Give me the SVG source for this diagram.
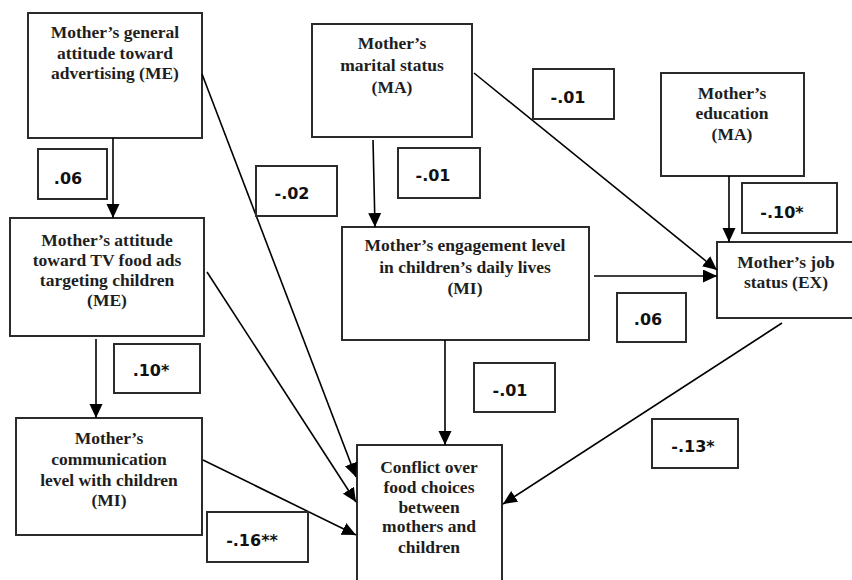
<svg xmlns="http://www.w3.org/2000/svg" width="852" height="580" viewBox="0 0 852 580">
<defs>
<style>
.box{fill:#fff;stroke:#2b2b2b;stroke-width:2}
.t{font-family:"Liberation Serif","Times New Roman",serif;font-size:17.5px;font-weight:bold;fill:#1e1e1e;text-anchor:middle}
.lb{fill:#fff;stroke:#2b2b2b;stroke-width:2}
.lt{font-family:"DejaVu Sans",Verdana,sans-serif;font-size:16px;font-weight:bold;fill:#111;text-anchor:middle}
.c{stroke:#000;stroke-width:1.6;fill:none;marker-end:url(#ah)}
</style>
<marker id="ah" markerUnits="userSpaceOnUse" markerWidth="15" markerHeight="14" refX="14" refY="6.5" orient="auto">
<path d="M0,0 L14,6.5 L0,13 Z" fill="#000"/>
</marker>
</defs>
<rect width="852" height="580" fill="#fff"/>

<g id="n_general">
<rect class="box" x="28" y="13" width="174" height="125"/>
<text class="t" x="115" y="38">Mother’s general</text>
<text class="t" x="115" y="59">attitude toward</text>
<text class="t" x="115" y="79">advertising (ME)</text>
</g>
<g id="n_tvads">
<rect class="box" x="10" y="218" width="194" height="118"/>
<text class="t" x="107" y="246">Mother’s attitude</text>
<text class="t" x="107" y="266">toward TV food ads</text>
<text class="t" x="107" y="286">targeting children</text>
<text class="t" x="107" y="306">(ME)</text>
</g>
<g id="n_comm">
<rect class="box" x="16" y="418" width="186" height="117"/>
<text class="t" x="109" y="444">Mother’s</text>
<text class="t" x="109" y="465">communication</text>
<text class="t" x="109" y="486">level with children</text>
<text class="t" x="109" y="506">(MI)</text>
</g>
<g id="n_marital">
<rect class="box" x="312" y="24" width="160" height="113"/>
<text class="t" x="392" y="49">Mother’s</text>
<text class="t" x="392" y="71">marital status</text>
<text class="t" x="392" y="93">(MA)</text>
</g>
<g id="n_engage">
<rect class="box" x="342" y="227" width="247" height="113"/>
<text class="t" x="465" y="251">Mother’s engagement level</text>
<text class="t" x="465" y="273">in children’s daily lives</text>
<text class="t" x="465" y="294">(MI)</text>
</g>
<g id="n_edu">
<rect class="box" x="661" y="73" width="143" height="103"/>
<text class="t" x="732" y="99">Mother’s</text>
<text class="t" x="732" y="119">education</text>
<text class="t" x="732" y="140">(MA)</text>
</g>
<g id="n_job">
<rect class="box" x="717" y="242" width="145" height="76"/>
<text class="t" x="786" y="268">Mother’s job</text>
<text class="t" x="786" y="288">status (EX)</text>
</g>
<g id="n_conflict">
<rect class="box" x="357" y="445" width="145" height="145"/>
<text class="t" x="429" y="473">Conflict over</text>
<text class="t" x="429" y="493">food choices</text>
<text class="t" x="429" y="513">between</text>
<text class="t" x="429" y="532">mothers and</text>
<text class="t" x="429" y="553">children</text>
</g>

<g id="connectors">
<line class="c" x1="113" y1="138" x2="113" y2="218"/>
<line class="c" x1="202" y1="74" x2="356" y2="477"/>
<line class="c" x1="96" y1="339" x2="96" y2="418"/>
<line class="c" x1="207" y1="272" x2="356" y2="502"/>
<line class="c" x1="203" y1="460" x2="356" y2="535"/>
<line class="c" x1="373" y1="140" x2="375" y2="227"/>
<line class="c" x1="474" y1="73" x2="717" y2="270"/>
<line class="c" x1="729" y1="176" x2="729" y2="242"/>
<line class="c" x1="594" y1="276" x2="717" y2="276"/>
<line class="c" x1="445" y1="340" x2="445" y2="445"/>
<line class="c" x1="782" y1="323" x2="503" y2="504"/>
</g>

<g id="edge_labels">
<rect class="lb" x="38" y="149" width="69" height="50"/><text class="lt" x="68" y="184">.06</text>
<rect class="lb" x="256" y="166" width="81" height="50"/><text class="lt" x="292" y="199">-.02</text>
<rect class="lb" x="398" y="148" width="82" height="50"/><text class="lt" x="433" y="181">-.01</text>
<rect class="lb" x="533" y="69" width="81" height="50"/><text class="lt" x="568" y="103">-.01</text>
<rect class="lb" x="742" y="183" width="95" height="50"/><text class="lt" x="782" y="218">-.10*</text>
<rect class="lb" x="114" y="344" width="86" height="49"/><text class="lt" x="151" y="376">.10*</text>
<rect class="lb" x="617" y="293" width="69" height="49"/><text class="lt" x="648" y="325">.06</text>
<rect class="lb" x="474" y="363" width="81" height="49"/><text class="lt" x="510" y="396">-.01</text>
<rect class="lb" x="652" y="419" width="86" height="49"/><text class="lt" x="693" y="452">-.13*</text>
<rect class="lb" x="207" y="512" width="101" height="50"/><text class="lt" x="252" y="546">-.16**</text>
</g>
</svg>
